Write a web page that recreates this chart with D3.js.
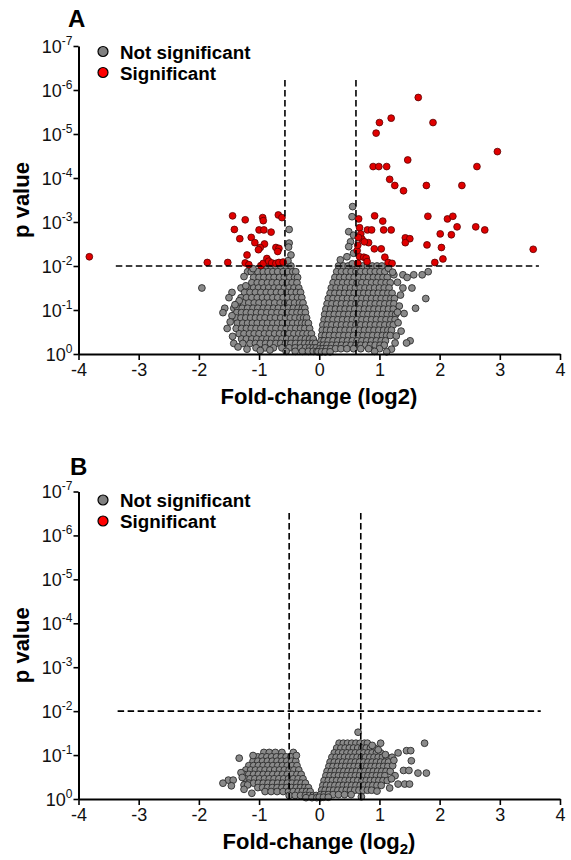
<!DOCTYPE html>
<html><head><meta charset="utf-8">
<script src="https://cdn.jsdelivr.net/npm/d3@7"></script>
<style>
body{margin:0;background:#fff}
svg{display:block}
text{font-family:"Liberation Sans",Arial,Helvetica,sans-serif}
</style>
</head><body>
<svg id="chart" width="571" height="860"></svg>
<script>
// ---------------- DATA ----------------
const xTickValues = [-4, -3, -2, -1, 0, 1, 2, 3, 4];
const yTickExponents = [0, -1, -2, -3, -4, -5, -6, -7];
const legendLabels = ["Not significant", "Significant"];
const panelLetters = ["A", "B"];
const pCutoff = 0.01;
const fcCutoffA = [-0.57, 0.61];
const fcCutoffB = [-0.50, 0.69];

// Panel A, not significant: rows of [-log10(p), [log2 fold-change ...]]
const grayRowsA = [
  [2.00, [-0.95,-0.87,-0.80,-0.72,-0.64,-0.55,-0.47]],
  [1.87, [-1.19,-1.13,-1.02,-0.93,-0.85,-0.77,-0.69,-0.60,-0.52,-0.44,-0.39]],
  [1.74, [-1.09,-1.00,-0.92,-0.83,-0.75,-0.66,-0.58,-0.49,-0.41,-0.36]],
  [1.62, [-1.12,-1.03,-0.95,-0.86,-0.78,-0.70,-0.61,-0.53,-0.45,-0.37]],
  [1.50, [-1.95,-1.30,-1.18,-1.09,-1.01,-0.92,-0.84,-0.75,-0.67,-0.58,-0.50,-0.42,-0.34]],
  [1.40, [-1.45,-1.24,-1.15,-1.06,-0.97,-0.88,-0.80,-0.71,-0.63,-0.54,-0.46,-0.38,-0.31]],
  [1.28, [-1.50,-1.30,-1.21,-1.12,-1.03,-0.94,-0.86,-0.77,-0.69,-0.60,-0.52,-0.44,-0.36,-0.29]],
  [1.16, [-1.34,-1.26,-1.17,-1.08,-1.00,-0.91,-0.83,-0.74,-0.65,-0.57,-0.49,-0.41,-0.33,-0.27]],
  [1.04, [-1.57,-1.42,-1.36,-1.28,-1.19,-1.10,-1.02,-0.93,-0.85,-0.76,-0.68,-0.59,-0.51,-0.43,-0.35,-0.28,-0.24]],
  [0.94, [-1.60,-1.37,-1.29,-1.21,-1.13,-1.04,-0.96,-0.87,-0.79,-0.70,-0.62,-0.53,-0.45,-0.37,-0.30,-0.23]],
  [0.82, [-1.38,-1.30,-1.22,-1.14,-1.06,-0.98,-0.90,-0.81,-0.73,-0.64,-0.56,-0.48,-0.40,-0.32,-0.26,-0.21]],
  [0.70, [-1.36,-1.27,-1.19,-1.11,-1.03,-0.94,-0.86,-0.77,-0.69,-0.61,-0.52,-0.44,-0.36,-0.29,-0.23,-0.18]],
  [0.58, [-1.53,-1.38,-1.29,-1.21,-1.13,-1.05,-0.97,-0.88,-0.80,-0.72,-0.63,-0.55,-0.47,-0.39,-0.31,-0.24,-0.16]],
  [0.46, [-1.33,-1.25,-1.16,-1.08,-1.00,-0.91,-0.83,-0.74,-0.66,-0.58,-0.50,-0.42,-0.34,-0.27,-0.20,-0.13]],
  [0.34, [-1.29,-1.21,-1.12,-1.04,-0.95,-0.87,-0.79,-0.70,-0.62,-0.54,-0.46,-0.38,-0.30,-0.23,-0.16,-0.10]],
  [0.24, [-1.42,-1.27,-1.15,-1.06,-0.98,-0.89,-0.81,-0.72,-0.64,-0.56,-0.47,-0.39,-0.31,-0.24,-0.17,-0.11,-0.06]],
  [0.14, [-1.05,-0.90,-0.76,-0.62,-0.50,-0.40,-0.31,-0.23,-0.16,-0.10,-0.05]],
  [0.06, [-0.55,-0.40,-0.28,-0.18,-0.10,-0.04,0.00]],
  [3.35, [0.555]],
  [2.00, [0.32,0.40,0.48,0.56,0.64,0.72,0.80,0.88,0.96,1.04]],
  [1.87, [0.29,0.37,0.45,0.53,0.61,0.69,0.77,0.85,0.93,1.01,1.09,1.81]],
  [1.80, [1.24,1.39,1.57,1.71]],
  [1.74, [0.26,0.34,0.42,0.50,0.58,0.66,0.74,0.82,0.90,0.98,1.06,1.13,1.46]],
  [1.62, [0.23,0.31,0.39,0.47,0.55,0.63,0.71,0.79,0.87,0.95,1.03,1.11,1.18]],
  [1.50, [0.20,0.28,0.36,0.44,0.52,0.60,0.68,0.76,0.84,0.92,1.00,1.08,1.16,1.39,1.54]],
  [1.38, [0.18,0.26,0.34,0.42,0.50,0.58,0.66,0.74,0.82,0.90,0.98,1.06,1.14,1.21]],
  [1.26, [0.15,0.23,0.31,0.39,0.47,0.55,0.63,0.71,0.79,0.87,0.95,1.03,1.11,1.19,1.25,1.77]],
  [1.14, [0.13,0.21,0.29,0.37,0.45,0.53,0.61,0.69,0.77,0.85,0.93,1.01,1.09,1.17,1.24]],
  [1.04, [1.60]],
  [1.02, [0.11,0.19,0.27,0.35,0.43,0.51,0.59,0.67,0.75,0.83,0.91,0.99,1.07,1.15,1.23]],
  [0.92, [1.41]],
  [0.90, [0.09,0.17,0.25,0.33,0.41,0.49,0.57,0.65,0.73,0.81,0.89,0.97,1.05,1.13,1.21,1.27]],
  [0.78, [0.08,0.15,0.23,0.31,0.39,0.47,0.55,0.63,0.71,0.79,0.87,0.95,1.03,1.11,1.19,1.26]],
  [0.66, [0.06,0.13,0.21,0.29,0.37,0.45,0.53,0.61,0.69,0.77,0.85,0.93,1.01,1.09,1.17,1.23]],
  [0.54, [0.05,0.12,0.19,0.27,0.35,0.43,0.51,0.59,0.67,0.75,0.83,0.91,0.99,1.07,1.14,1.20]],
  [0.42, [0.04,0.10,0.17,0.25,0.33,0.41,0.49,0.57,0.65,0.73,0.81,0.89,0.97,1.05,1.12,1.18]],
  [0.30, [0.03,0.08,0.15,0.23,0.31,0.39,0.47,0.55,0.63,0.71,0.79,0.87,0.95,1.03,1.10,1.51]],
  [0.25, [1.26,1.45]],
  [0.20, [0.02,0.07,0.13,0.21,0.29,0.37,0.45,0.53,0.61,0.69,0.77,0.85,0.93,1.01,1.08]],
  [0.12, [0.01,0.06,0.12,0.19,0.27,0.36,0.46,0.57,0.69,0.82,1.00]],
  [0.05, [-0.02,0.04,0.10,0.18]]
];
// Panel A, extra not-significant points (ragged edges, points above the p cut-off): [log2FC, -log10 p]
const grayExtraA = [
  [-0.50,2.83],[-0.50,2.52],[-0.51,2.43],[-0.47,2.25],[-0.52,2.12],
  [0.545,3.12],[0.49,2.78],[0.57,2.70],[0.52,2.55],[0.49,2.44],[0.57,2.29],[0.35,2.14],[0.46,2.21],[0.55,2.05],
  [-1.25,1.76],[-1.33,1.21],[-1.45,0.87],[-1.48,0.73],[-1.44,0.40],[-1.35,0.16],[-1.20,0.11],
  [-1.10,1.94],[-1.40,1.12],[-1.22,1.55],[-0.98,0.08],[-0.82,0.09],
  [1.30,1.63],[1.33,1.09],[1.31,0.71],[1.28,0.41],[1.20,0.11],[1.15,1.95],[1.35,1.34],[1.30,0.95],
  [1.12,0.05],[0.92,0.06],[1.22,1.86],[1.36,0.52]
];
// Panel A, significant: [log2FC, -log10 p]
const redA = [
  [-3.82,2.21],[-1.86,2.08],[-1.52,2.08],[-1.44,3.14],[-1.23,3.05],[-0.94,3.10],[-0.93,3.03],
  [-0.68,3.16],[-0.62,3.10],[-1.41,2.83],[-1.00,2.82],[-0.92,2.82],[-0.80,2.77],[-1.32,2.62],
  [-1.13,2.65],[-1.07,2.53],[-0.91,2.50],[-0.98,2.42],[-1.01,2.37],[-0.72,2.42],[-0.67,2.40],
  [-0.69,2.33],[-1.20,2.25],[-1.23,2.07],[-1.17,2.03],[-0.97,2.01],[-0.93,2.06],[-0.87,2.17],
  [-0.84,2.11],[-0.79,2.07],[-0.72,2.06],[-0.67,2.08],[-0.60,2.09],
  [1.645,5.83],[1.00,5.26],[1.195,5.36],[1.89,5.26],[0.945,5.02],[2.96,4.60],[1.47,4.41],
  [0.895,4.26],[0.99,4.26],[1.12,4.26],[2.62,4.26],[1.17,3.97],[1.255,3.83],[1.40,3.71],
  [1.78,3.83],[2.37,3.83],[0.92,3.14],[1.055,3.02],[1.805,3.13],[2.13,3.07],[2.22,3.13],
  [2.29,2.89],[2.60,2.89],[2.75,2.82],[3.555,2.38],[0.80,2.82],[0.87,2.82],[1.07,2.82],
  [1.195,2.82],[0.655,3.07],[0.67,2.87],[0.69,2.73],[0.71,2.61],[0.82,2.53],[1.43,2.64],
  [1.505,2.62],[1.43,2.53],[2.01,2.73],[2.195,2.71],[1.79,2.48],[2.03,2.42],[0.915,2.39],
  [1.03,2.39],[0.63,2.35],[0.67,2.21],[0.74,2.20],[0.78,2.18],[1.09,2.20],[1.145,2.08],
  [1.21,2.06],[2.055,2.16],[1.92,2.08],[0.64,2.06],[0.795,2.10],[0.64,2.47],[0.75,2.55],[0.65,2.65]
];

// Panel B, not significant: rows of [-log10(p), [log2 fold-change ...]]
const grayRowsB = [
  [1.06, [-0.92,-0.83,-0.73,-0.62,-0.43]],
  [0.96, [-1.02,-0.95,-0.87,-0.79,-0.71,-0.63,-0.55,-0.47]],
  [0.93, [-1.33]],
  [0.86, [-1.10,-1.02,-0.94,-0.86,-0.78,-0.70,-0.62,-0.54,-0.46,-0.39]],
  [0.76, [-1.17,-1.09,-1.01,-0.93,-0.85,-0.77,-0.69,-0.61,-0.53,-0.45,-0.37]],
  [0.66, [-1.22,-1.14,-1.06,-0.98,-0.90,-0.82,-0.74,-0.66,-0.58,-0.50,-0.42,-0.34]],
  [0.56, [-1.25,-1.17,-1.09,-1.01,-0.93,-0.85,-0.77,-0.69,-0.61,-0.53,-0.45,-0.37,-0.30]],
  [0.46, [-1.23,-1.15,-1.07,-0.99,-0.91,-0.83,-0.75,-0.67,-0.59,-0.51,-0.43,-0.35,-0.27]],
  [0.43, [-1.51,-1.43]],
  [0.36, [-1.60,-1.17,-1.09,-1.01,-0.93,-0.85,-0.77,-0.69,-0.61,-0.53,-0.45,-0.37,-0.30,-0.23]],
  [0.32, [-1.25,-1.19]],
  [0.30, [-1.46]],
  [0.26, [-1.02,-0.94,-0.86,-0.78,-0.70,-0.62,-0.54,-0.46,-0.38,-0.31,-0.24,-0.18]],
  [0.17, [-0.90,-0.80,-0.70,-0.60,-0.51,-0.43,-0.35,-0.28,-0.21,-0.15]],
  [0.08, [-0.50,-0.40,-0.31,-0.23,-0.16,-0.10,-0.05]],
  [0.03, [-0.22,-0.12,-0.04,0.02]],
  [1.52, [0.645]],
  [1.27, [0.33,0.40,0.47,0.54,0.61,0.68,0.75,0.80,1.02,1.75]],
  [1.16, [0.29,0.36,0.43,0.50,0.57,0.64,0.71,0.78,0.85,0.92]],
  [1.10, [1.45,1.52]],
  [1.05, [0.25,0.32,0.39,0.46,0.53,0.60,0.67,0.74,0.81,0.88,0.95,1.02,1.31]],
  [0.95, [0.21,0.28,0.35,0.42,0.49,0.56,0.63,0.70,0.77,0.84,0.91,0.98,1.05,1.12,1.21]],
  [0.87, [1.53]],
  [0.84, [0.18,0.25,0.32,0.39,0.46,0.53,0.60,0.67,0.74,0.81,0.88,0.95,1.02,1.09,1.15]],
  [0.74, [0.16,0.23,0.30,0.37,0.44,0.51,0.58,0.65,0.72,0.79,0.86,0.93,1.00,1.07,1.14]],
  [0.65, [1.40,1.49]],
  [0.63, [0.13,0.20,0.27,0.34,0.41,0.48,0.55,0.62,0.69,0.76,0.83,0.90,0.97,1.04,1.11,1.18]],
  [0.59, [1.64,1.78]],
  [0.53, [0.11,0.18,0.25,0.32,0.39,0.46,0.53,0.60,0.67,0.74,0.81,0.88,0.95,1.02,1.09,1.26]],
  [0.42, [0.08,0.15,0.22,0.29,0.36,0.43,0.50,0.57,0.64,0.71,0.78,0.85,0.92,0.99,1.06,1.13]],
  [0.34, [1.31,1.42,1.50]],
  [0.31, [0.06,0.12,0.19,0.26,0.33,0.40,0.47,0.54,0.61,0.68,0.75,0.82,0.89,0.96,1.03]],
  [0.20, [0.04,0.10,0.17,0.24,0.31,0.38,0.45,0.52,0.59,0.66,0.73,0.80,0.87]],
  [0.18, [0.96]],
  [0.10, [0.02,0.08,0.15,0.23,0.32,0.42,0.53]],
  [0.04, [0.00,0.07,0.15]]
];
const grayExtraB = [
  [-1.30,0.60],[-1.28,0.49],[-1.10,0.99],[-1.25,0.22],[-0.38,0.99],[-1.12,0.13],
  [1.20,0.46],[1.22,0.76],[1.17,0.25],[0.88,1.22],[0.98,1.12],[1.10,1.01],[0.70,0.05],[1.24,0.88]
];
const redB = [];

// ---------------- DRAWING ----------------
const svg = d3.select("#chart");
const FONT = '"Liberation Sans",Arial,Helvetica,sans-serif';
const GRAY_FILL = "#8a8a8a", GRAY_STROKE = "#262626";
const RED_FILL = "#e00000", RED_STROKE = "#5a0000";

function rowsToPoints(rows){
  const out = [];
  rows.forEach(([L, fcs]) => fcs.forEach(fc => out.push([fc, L])));
  return out;
}

function drawPanel(o){
  const g = svg.append("g");
  const x = d3.scaleLinear().domain([-4, 4]).range([78.5, 560]);
  const y = d3.scaleLog().domain([1, 1e-7]).range([o.yBottom, o.yTop]);
  const py = L => y(Math.pow(10, -L));

  g.append("text").attr("x", o.letterX).attr("y", o.letterY)
    .attr("font-size", 24).attr("font-weight", "bold").text(o.letter);

  g.append("g").selectAll("circle").data(o.gray).join("circle")
    .attr("cx", d => x(d[0])).attr("cy", d => py(d[1])).attr("r", 3.4)
    .attr("fill", GRAY_FILL).attr("stroke", GRAY_STROKE).attr("stroke-width", 0.85);
  g.append("g").selectAll("circle").data(o.red).join("circle")
    .attr("cx", d => x(d[0])).attr("cy", d => py(d[1])).attr("r", 3.4)
    .attr("fill", RED_FILL).attr("stroke", RED_STROKE).attr("stroke-width", 0.8);

  const dash = "6.5,3.5";
  g.append("line").attr("x1", x(o.hFrom)).attr("x2", x(o.hTo))
    .attr("y1", y(pCutoff)).attr("y2", y(pCutoff))
    .attr("stroke", "#000").attr("stroke-width", 1.6).attr("stroke-dasharray", dash);
  o.fcCut.forEach(v => {
    g.append("line").attr("x1", x(v)).attr("x2", x(v))
      .attr("y1", o.vTop).attr("y2", y(1))
      .attr("stroke", "#000").attr("stroke-width", 1.6).attr("stroke-dasharray", dash);
  });

  const ya = g.append("g").attr("transform", `translate(${x(-4)},0)`)
    .call(d3.axisLeft(y).tickValues(yTickExponents.map(e => Math.pow(10, e)))
      .tickSize(5).tickSizeOuter(0).tickFormat(() => ""));
  ya.select(".domain").attr("stroke-width", 2);
  ya.selectAll(".tick line").attr("stroke-width", 1.6);
  ya.selectAll(".tick").each(function(d){
    const e = Math.round(Math.log10(d));
    const t = d3.select(this).append("text").attr("x", -6).attr("y", 6)
      .attr("text-anchor", "end").attr("fill", "#111").attr("font-family", FONT)
      .attr("font-size", 18);
    t.append("tspan").text("10");
    t.append("tspan").attr("dy", -8).attr("font-size", 12).text(e === 0 ? "0" : "-" + Math.abs(e));
  });

  const xa = g.append("g").attr("transform", `translate(0,${y(1)})`)
    .call(d3.axisBottom(x).tickValues(xTickValues).tickSize(6).tickSizeOuter(0)
      .tickFormat(d => d < 0 ? "-" + Math.abs(d) : String(d)));
  xa.select(".domain").attr("stroke-width", 2.2);
  xa.selectAll(".tick line").attr("stroke-width", 1.6);
  xa.selectAll(".tick text").attr("font-family", FONT).attr("font-size", 18)
    .attr("fill", "#111").attr("dy", null).attr("y", 22);

  const xt = g.append("text").attr("x", 319).attr("y", y(1) + 50)
    .attr("text-anchor", "middle").attr("font-size", 22).attr("font-weight", "bold");
  if (o.subscript){
    xt.append("tspan").text("Fold-change (log");
    xt.append("tspan").attr("font-size", 15).attr("dy", 5).text("2");
    xt.append("tspan").attr("dy", -5).text(")");
  } else {
    xt.text("Fold-change (log2)");
  }
  g.append("text").attr("transform", `translate(29,${(o.yTop + o.yBottom) / 2}) rotate(-90)`)
    .attr("text-anchor", "middle").attr("font-size", 22).attr("font-weight", "bold").text("p value");

  const colors = [["#808080", "#000"], ["#ff0000", "#000"]];
  legendLabels.forEach((lab, i) => {
    const cy = o.legendY + i * 21;
    g.append("circle").attr("cx", 103).attr("cy", cy).attr("r", 5)
      .attr("fill", colors[i][0]).attr("stroke", colors[i][1]).attr("stroke-width", 1.2);
    g.append("text").attr("x", 120).attr("y", cy + 7).attr("font-size", 18.8)
      .attr("font-weight", "bold").text(lab);
  });
}

drawPanel({
  letter: panelLetters[0], letterX: 68, letterY: 27,
  yTop: 46, yBottom: 354, vTop: 80, hFrom: -3.38, hTo: 3.65,
  fcCut: fcCutoffA, legendY: 51.5,
  gray: rowsToPoints(grayRowsA).concat(grayExtraA), red: redA, subscript: false
});
drawPanel({
  letter: panelLetters[1], letterX: 70, letterY: 475,
  yTop: 491.5, yBottom: 799, vTop: 513, hFrom: -3.35, hTo: 3.68,
  fcCut: fcCutoffB, legendY: 500,
  gray: rowsToPoints(grayRowsB).concat(grayExtraB), red: redB, subscript: true
});
</script>
</body></html>
